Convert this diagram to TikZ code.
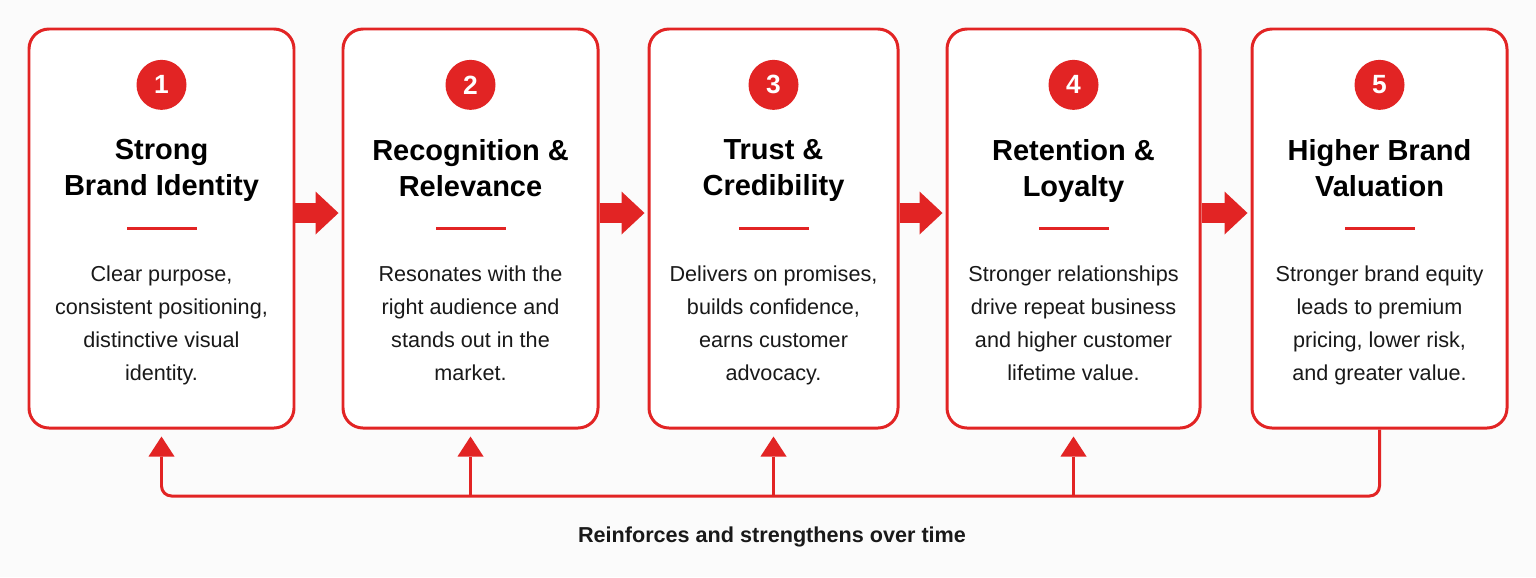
\documentclass[tikz,border=0pt]{standalone}
\usepackage{fontspec}
\setmainfont{Liberation Sans}
\usetikzlibrary{arrows.meta, positioning}
\definecolor{rosso}{RGB}{226,36,36}
\definecolor{sfondo}{RGB}{251,251,251}
\definecolor{testo}{RGB}{25,25,25}

\begin{document}
\begin{tikzpicture}[
  blocco/.style={draw=rosso, line width=1.7pt, rounded corners=0.4cm, fill=white,
                 minimum width=5.1cm, minimum height=7.98cm},
  numero/.style={circle, fill=rosso, text=white, minimum size=1cm, inner sep=0pt,
                 font=\fontsize{15}{15}\selectfont\bfseries},
  titolo/.style={align=center, inner sep=0pt, text=black,
                 font=\fontsize{16.5}{20.5}\selectfont\bfseries},
  lineetta/.style={fill=rosso, minimum width=1.4cm, minimum height=1.8pt, inner sep=0pt},
  descr/.style={align=center, inner sep=0pt, text=testo,
                font=\fontsize{12.3}{18.7}\selectfont},
  freccia/.style={draw=rosso, line width=0.4cm, shorten >=0.06cm,
                  -{Triangle[length=0.46cm, width=0.86cm, line width=0pt]}},
  ritorno/.style={draw=rosso, line width=1.7pt, rounded corners=0.2cm},
  punta/.style={-{Triangle[length=0.4cm, width=0.52cm, line width=0pt]}},
  didasc/.style={font=\fontsize{12.3}{14}\selectfont\bfseries, text=testo, inner sep=0pt}
]

\fill[sfondo] (0,0) rectangle (30.72,-11.54);
\useasboundingbox (0,0) rectangle (30.72,-11.54);

% le cinque fasi
\node[blocco, minimum width=5.3cm]  (b1) at (3.23,-4.57)  {};
\node[blocco]                       (b2) at (9.41,-4.57)  {};
\node[blocco, minimum width=4.98cm] (b3) at (15.47,-4.57) {};
\node[blocco, minimum width=5.06cm] (b4) at (21.47,-4.57) {};
\node[blocco]                       (b5) at (27.59,-4.57) {};

\node[numero, below=0.64cm of b1.north] (n1) {1};
\node[numero, below=0.64cm of b2.north] (n2) {2};
\node[numero, below=0.64cm of b3.north] (n3) {3};
\node[numero, below=0.64cm of b4.north] (n4) {4};
\node[numero, below=0.64cm of b5.north] (n5) {5};

\node[titolo, below=0.58cm of n1] (t1) {Strong\\Brand Identity};
\node[titolo, below=0.58cm of n2] (t2) {Recognition \&\\Relevance};
\node[titolo, below=0.58cm of n3] (t3) {Trust \&\\Credibility};
\node[titolo, below=0.58cm of n4] (t4) {Retention \&\\Loyalty};
\node[titolo, below=0.58cm of n5] (t5) {Higher Brand\\Valuation};

\node[lineetta, below=2.33cm of n1] (r1) {};
\node[lineetta, below=2.33cm of n2] (r2) {};
\node[lineetta, below=2.33cm of n3] (r3) {};
\node[lineetta, below=2.33cm of n4] (r4) {};
\node[lineetta, below=2.33cm of n5] (r5) {};

\node[descr, below=0.7cm of r1] (d1) {Clear purpose,\\consistent positioning,\\distinctive visual\\identity.};
\node[descr, below=0.7cm of r2] (d2) {Resonates with the\\right audience and\\stands out in the\\market.};
\node[descr, below=0.7cm of r3] (d3) {Delivers on promises,\\builds confidence,\\earns customer\\advocacy.};
\node[descr, below=0.7cm of r4] (d4) {Stronger relationships\\drive repeat business\\and higher customer\\lifetime value.};
\node[descr, below=0.7cm of r5] (d5) {Stronger brand equity\\leads to premium\\pricing, lower risk,\\and greater value.};

% frecce tra le fasi
\draw[freccia] ([yshift=0.31cm]b1.east) -- ([yshift=0.31cm]b2.west);
\draw[freccia] ([yshift=0.31cm]b2.east) -- ([yshift=0.31cm]b3.west);
\draw[freccia] ([yshift=0.31cm]b3.east) -- ([yshift=0.31cm]b4.west);
\draw[freccia] ([yshift=0.31cm]b4.east) -- ([yshift=0.31cm]b5.west);

% ritorno
\coordinate (suolo) at (15.44,-9.92);
\draw[ritorno, punta] (b5.south) |- (suolo) -| ([yshift=-0.14cm]b1.south);
\draw[ritorno, punta] (b2.south |- suolo) -- ([yshift=-0.14cm]b2.south);
\draw[ritorno, punta] (b3.south |- suolo) -- ([yshift=-0.14cm]b3.south);
\draw[ritorno, punta] (b4.south |- suolo) -- ([yshift=-0.14cm]b4.south);

\node[didasc] (nota) at (15.44,-10.74) {Reinforces and strengthens over time};

\end{tikzpicture}
\end{document}
